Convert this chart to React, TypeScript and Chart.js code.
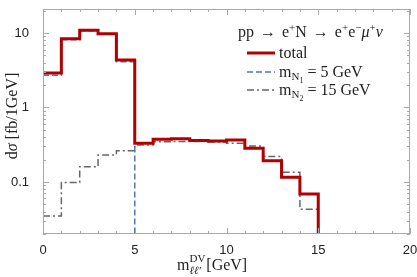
import React, { useEffect, useRef } from "react";
import { Chart, registerables } from "chart.js";

Chart.register(...registerables);

// bin lower edges (GeV), bins are 1 GeV wide
const binEdges = [0, 1, 2, 3, 4, 5, 6, 7, 8, 9, 10, 11, 12, 13, 14, 15];
const totalValues = [2.9, 8.4, 10.9, 9.8, 4.35, 0.33, 0.375, 0.38, 0.36, 0.355, 0.366, 0.283, 0.193, 0.116, 0.069];
const mN1Values = [2.7, 8.1, 10.7, 9.6, 4.1];
const mN2Values = [0.035, 0.098, 0.16, 0.23, 0.263, 0.314, 0.346, 0.35, 0.35, 0.345, 0.33, 0.304, 0.219, 0.135, 0.043];
const xTickLabels = [0, 5, 10, 15, 20];
const yTickLabels = ["0.1", "1", "10"];

const FLOOR = 1e-4;
const RED = "#b00000";
const BLUE = "#5577b0";
const GRAY = "#666666";
const SERIF = '"Liberation Serif", "DejaVu Serif", serif';
const SANS = '"Liberation Sans", Arial, sans-serif';

function histPoints(vals: number[]) {
  const pts = vals.map((v, i) => ({ x: binEdges[i], y: v }));
  pts.push({ x: binEdges[vals.length], y: vals[vals.length - 1] });
  pts.push({ x: binEdges[vals.length], y: FLOOR });
  return pts;
}

type Seg = { t: string; size: number; dy: number; italic?: boolean; gap?: number };

function drawRich(ctx: CanvasRenderingContext2D, segs: Seg[], x: number, y: number, draw = true) {
  let cx = x;
  for (const s of segs) {
    ctx.font = `${s.italic ? "italic " : ""}${s.size}px ${SERIF}`;
    if (draw) ctx.fillText(s.t, cx, y + s.dy);
    cx += ctx.measureText(s.t).width + (s.gap || 0);
  }
  return cx - x;
}

const decorPlugin = {
  id: "decor",
  afterDatasetsDraw(chart: any) {
    const ctx = chart.ctx as CanvasRenderingContext2D;
    const { left, right, top, bottom } = chart.chartArea;
    const xs = chart.scales.x;
    const ys = chart.scales.y;
    ctx.save();
    ctx.strokeStyle = "#a8a8a8";
    ctx.lineWidth = 1;
    ctx.strokeRect(left + 0.5, top + 0.5, right - left - 1, bottom - top - 1);
    for (let v = 0; v <= 20; v++) {
      const px = Math.round(xs.getPixelForValue(v)) + 0.5;
      const len = v % 5 === 0 ? 6 : 3;
      ctx.beginPath();
      ctx.moveTo(px, bottom);
      ctx.lineTo(px, bottom - len);
      ctx.moveTo(px, top);
      ctx.lineTo(px, top + len);
      ctx.stroke();
    }
    for (let e = -2; e <= 1; e++) {
      for (let m = 1; m <= 9; m++) {
        const v = m * Math.pow(10, e);
        if (v < ys.min || v > ys.max) continue;
        const py = Math.round(ys.getPixelForValue(v)) + 0.5;
        const len = m === 1 ? 6 : 3;
        ctx.beginPath();
        ctx.moveTo(left, py);
        ctx.lineTo(left + len, py);
        ctx.moveTo(right, py);
        ctx.lineTo(right - len, py);
        ctx.stroke();
      }
    }
    ctx.restore();
  },
  afterDraw(chart: any) {
    const ctx = chart.ctx as CanvasRenderingContext2D;
    ctx.save();
    ctx.fillStyle = "#222";
    ctx.textBaseline = "alphabetic";
    ctx.textAlign = "left";
    const sup = (t: string): Seg => ({ t, size: 11, dy: -6 });
    const n = (t: string, italic = false, gap = 0): Seg => ({ t, size: 16, dy: 0, italic, gap });
    drawRich(
      ctx,
      [n("pp ", false, 2), n("→ ", false, 2), n("e"), sup("+"), n("N ", false, 2), n("→ ", false, 2), n("e"), sup("+"), n("e"), sup("−"), n("μ", true), sup("+"), n("ν", true)],
      238,
      37
    );
    const lx0 = 247, lx1 = 275, tx = 279;
    const rows = [53, 72, 90];
    ctx.lineCap = "butt";
    ctx.strokeStyle = RED; ctx.lineWidth = 3; ctx.setLineDash([]);
    ctx.beginPath(); ctx.moveTo(lx0, rows[0]); ctx.lineTo(lx1, rows[0]); ctx.stroke();
    ctx.strokeStyle = BLUE; ctx.lineWidth = 1.5; ctx.setLineDash([6, 3]);
    ctx.beginPath(); ctx.moveTo(lx0, rows[1]); ctx.lineTo(lx1, rows[1]); ctx.stroke();
    ctx.strokeStyle = GRAY; ctx.lineWidth = 1.5; ctx.setLineDash([7, 3, 2, 3]);
    ctx.beginPath(); ctx.moveTo(lx0, rows[2]); ctx.lineTo(lx1, rows[2]); ctx.stroke();
    ctx.setLineDash([]);
    drawRich(ctx, [n("total")], tx, rows[0] + 5);
    drawRich(ctx, [n("m"), { t: "N", size: 11, dy: 3 }, { t: "1", size: 8, dy: 6 }, n(" = 5 GeV")], tx, rows[1] + 5);
    drawRich(ctx, [n("m"), { t: "N", size: 11, dy: 3 }, { t: "2", size: 8, dy: 6 }, n(" = 15 GeV")], tx, rows[2] + 5);
    {
      const base = 270;
      let x = 177;
      ctx.font = `16px ${SERIF}`;
      ctx.fillText("m", x, base);
      x += ctx.measureText("m").width;
      ctx.font = `11px ${SERIF}`;
      ctx.fillText("DV", x, base - 8);
      const wdv = ctx.measureText("DV").width;
      ctx.font = `italic 11px ${SERIF}`;
      ctx.fillText("ℓℓ′", x, base + 4);
      const wll = ctx.measureText("ℓℓ′").width;
      x += Math.max(wdv, wll) + 1;
      ctx.font = `16px ${SERIF}`;
      ctx.fillText("[GeV]", x, base);
    }
    {
      ctx.save();
      ctx.translate(17, 116);
      ctx.rotate(-Math.PI / 2);
      const segs: Seg[] = [n("d"), n("σ", true), n(" [fb/1GeV]")];
      const w = drawRich(ctx, segs, 0, 0, false);
      drawRich(ctx, segs, -w / 2, 0);
      ctx.restore();
    }
    ctx.restore();
  },
};

export default function App() {
  const ref = useRef<HTMLCanvasElement | null>(null);
  useEffect(() => {
    if (!ref.current) return;
    const chart = new Chart(ref.current, {
      type: "line",
      data: {
        datasets: [
          { label: "total", data: histPoints(totalValues), borderColor: RED, borderWidth: 3, stepped: "before", pointRadius: 0, fill: false },
          { label: "mN1 = 5 GeV", data: histPoints(mN1Values), borderColor: BLUE, borderWidth: 1.5, borderDash: [6, 3], stepped: "before", pointRadius: 0, fill: false },
          { label: "mN2 = 15 GeV", data: histPoints(mN2Values), borderColor: GRAY, borderWidth: 1.5, borderDash: [7, 3, 2, 3], stepped: "before", pointRadius: 0, fill: false },
        ],
      },
      options: {
        animation: false,
        responsive: false,
        maintainAspectRatio: false,
        layout: { padding: { left: 0, top: 9, right: 7, bottom: 0 } },
        plugins: { legend: { display: false }, tooltip: { enabled: false } },
        scales: {
          x: {
            type: "linear",
            min: 0,
            max: 20,
            grid: { display: false },
            border: { display: false },
            afterBuildTicks: (s: any) => {
              s.ticks = xTickLabels.map((v) => ({ value: v }));
            },
            ticks: {
              autoSkip: false,
              maxRotation: 0,
              padding: 1,
              color: "#222",
              font: { family: SANS, size: 13 },
              callback: (v: any) => String(v),
            },
            afterFit: (s: any) => {
              s.height = 43;
              s.paddingLeft = 0;
              s.paddingRight = 0;
            },
          },
          y: {
            type: "logarithmic",
            min: 0.02,
            max: 21,
            grid: { display: false },
            border: { display: false },
            afterBuildTicks: (s: any) => {
              s.ticks = yTickLabels.map((t) => ({ value: parseFloat(t) }));
            },
            ticks: {
              autoSkip: false,
              padding: 6,
              color: "#222",
              font: { family: SANS, size: 13 },
              callback: (v: any) => {
                const idx = yTickLabels.findIndex((t) => Math.abs(parseFloat(t) - v) < 1e-9);
                return idx >= 0 ? yTickLabels[idx] : "";
              },
            },
            afterFit: (s: any) => {
              s.width = 43;
              s.paddingTop = 0;
              s.paddingBottom = 0;
            },
          },
        },
      } as any,
      plugins: [decorPlugin],
    });
    return () => chart.destroy();
  }, []);
  return (
    <div style={{ position: "absolute", left: 0, top: 0, width: 417, height: 277, background: "#fff" }}>
      <canvas ref={ref} width={417} height={277} style={{ width: 417, height: 277 }} />
    </div>
  );
}
